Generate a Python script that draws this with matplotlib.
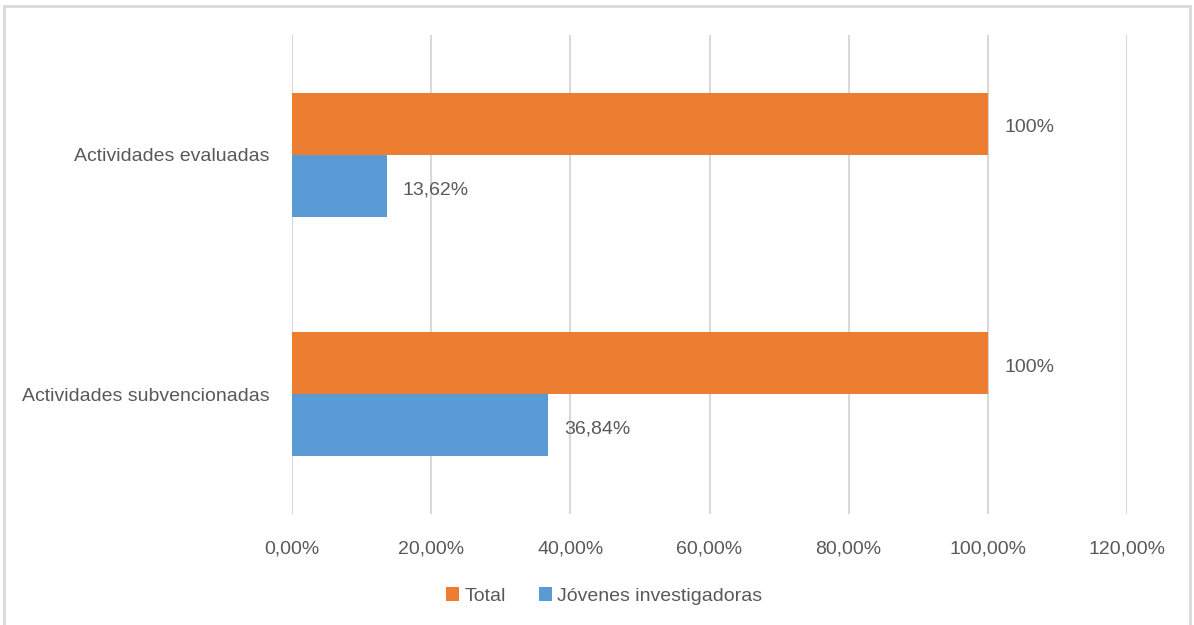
import matplotlib
matplotlib.use("Agg")
from matplotlib import pyplot as plt
from matplotlib.patches import Rectangle
import numpy as np

plt.rcParams['font.family'] = ['Liberation Sans Narrow', 'Liberation Sans', 'DejaVu Sans']

categories = ["Actividades evaluadas", "Actividades subvencionadas"]
total = [100.0, 100.0]
jovenes = [13.62, 36.84]
total_labels = ["100%", "100%"]
jovenes_labels = ["13,62%", "36,84%"]
xticks = [0, 20, 40, 60, 80, 100, 120]
xtick_labels = ["0,00%", "20,00%", "40,00%", "60,00%", "80,00%", "100,00%", "120,00%"]

orange = "#ED7D31"
blue = "#5B9BD5"
txt = "#595959"

W, H = 1194, 625
fig = plt.figure(figsize=(W / 100, H / 100), dpi=100)
# outer border of the chart area
fig.patches.append(Rectangle((4 / W, -0.05), (1190 - 4) / W, 1.05 - 6 / H,
                             transform=fig.transFigure, fill=False,
                             edgecolor="#d9d9d9", linewidth=2))

ax = fig.add_axes([292 / W, 1 - 514 / H, (1127 - 292) / W, (514 - 35) / H])

y = np.arange(len(categories))
h = 0.258
ax.barh(y - h / 2, total, height=h, color=orange, label="Total", zorder=3)
ax.barh(y + h / 2, jovenes, height=h, color=blue, label="Jóvenes investigadoras", zorder=3)

for i in range(len(categories)):
    ax.annotate(total_labels[i], (total[i], y[i] - h / 2), xytext=(17, -4),
                textcoords="offset pixels", va="center", ha="left",
                fontsize=14, color=txt)
    ax.annotate(jovenes_labels[i], (jovenes[i], y[i] + h / 2), xytext=(16, -4),
                textcoords="offset pixels", va="center", ha="left",
                fontsize=14, color=txt)

ax.set_xlim(0, 120)
ax.set_ylim(1.5, -0.5)
ax.set_xticks(xticks)
ax.set_xticklabels(xtick_labels)
ax.set_yticks(y)
ax.set_yticklabels(categories)
ax.tick_params(axis="x", length=0, pad=19, labelsize=14, labelcolor=txt)
ax.tick_params(axis="y", length=0, pad=16, labelsize=14, labelcolor=txt)
ax.grid(axis="x", color="#d9d9d9", linewidth=1.5, zorder=0)
for s in ax.spines.values():
    s.set_visible(False)

ax.legend(loc="center", bbox_to_anchor=(604 / W, 1 - 596 / H),
          bbox_transform=fig.transFigure, ncol=2, frameon=False,
          fontsize=14, labelcolor=txt, handlelength=0.7, handleheight=0.7,
          handletextpad=0.25, columnspacing=1.7)

fig.savefig("out.png", dpi=100)
